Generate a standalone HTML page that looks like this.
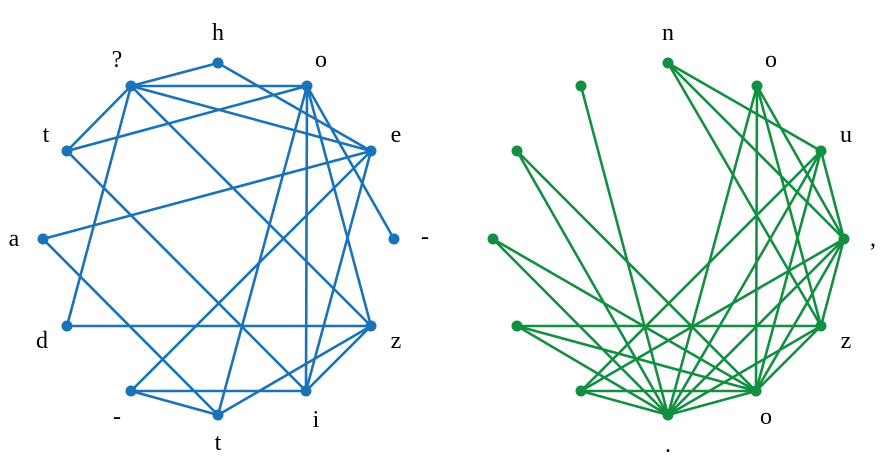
<!DOCTYPE html>
<html><head><meta charset="utf-8"><style>
html,body{margin:0;padding:0;background:#fff;}
svg{display:block;}
text{font-family:"Liberation Serif",serif;font-size:24px;fill:#000;text-anchor:middle;}
</style></head><body>
<svg width="891" height="466" viewBox="0 0 891 466" xmlns="http://www.w3.org/2000/svg">
<g stroke="#1a72b8" stroke-width="2.6" fill="none">
<line x1="131" y1="86" x2="218" y2="63"/>
<line x1="218" y1="63" x2="371" y2="151"/>
<line x1="131" y1="86" x2="307" y2="86"/>
<line x1="131" y1="86" x2="371" y2="151"/>
<line x1="131" y1="86" x2="67" y2="151"/>
<line x1="131" y1="86" x2="67" y2="326"/>
<line x1="131" y1="86" x2="371" y2="326"/>
<line x1="307" y1="86" x2="67" y2="151"/>
<line x1="307" y1="86" x2="394" y2="239"/>
<line x1="307" y1="86" x2="371" y2="326"/>
<line x1="307" y1="86" x2="306" y2="391"/>
<line x1="307" y1="86" x2="218" y2="415"/>
<line x1="371" y1="151" x2="43" y2="239"/>
<line x1="371" y1="151" x2="131" y2="391"/>
<line x1="371" y1="151" x2="306" y2="391"/>
<line x1="67" y1="151" x2="306" y2="391"/>
<line x1="43" y1="239" x2="218" y2="415"/>
<line x1="67" y1="326" x2="371" y2="326"/>
<line x1="371" y1="326" x2="306" y2="391"/>
<line x1="371" y1="326" x2="218" y2="415"/>
<line x1="131" y1="391" x2="306" y2="391"/>
<line x1="131" y1="391" x2="218" y2="415"/>
</g>
<g fill="#1a72b8">
<circle cx="218" cy="63" r="5.5"/><circle cx="307" cy="86" r="5.5"/><circle cx="131" cy="86" r="5.5"/>
<circle cx="67" cy="151" r="5.5"/><circle cx="371" cy="151" r="5.5"/><circle cx="43" cy="239" r="5.5"/>
<circle cx="394" cy="239" r="5.5"/><circle cx="67" cy="326" r="5.5"/><circle cx="371" cy="326" r="5.5"/>
<circle cx="131" cy="391" r="5.5"/><circle cx="306" cy="391" r="5.5"/><circle cx="218" cy="415" r="5.5"/>
</g>
<text x="218" y="40">h</text><text x="321" y="67">o</text><text x="117" y="67">?</text>
<text x="46" y="142">t</text><text x="396" y="142">e</text><text x="14" y="246">a</text>
<text x="425" y="244">-</text><text x="42" y="348">d</text><text x="396" y="348">z</text>
<text x="117" y="424">-</text><text x="316" y="427">i</text><text x="218" y="450">t</text>

<g stroke="#138f42" stroke-width="2.6" fill="none">
<line x1="668" y1="63" x2="821" y2="151"/>
<line x1="668" y1="63" x2="844" y2="239"/>
<line x1="668" y1="63" x2="821" y2="326"/>
<line x1="581" y1="86" x2="668" y2="415"/>
<line x1="517" y1="151" x2="668" y2="415"/>
<line x1="517" y1="151" x2="756" y2="391"/>
<line x1="493" y1="239" x2="668" y2="415"/>
<line x1="493" y1="239" x2="756" y2="391"/>
<line x1="517" y1="326" x2="821" y2="326"/>
<line x1="517" y1="326" x2="668" y2="415"/>
<line x1="517" y1="326" x2="756" y2="391"/>
<line x1="581" y1="391" x2="756" y2="391"/>
<line x1="581" y1="391" x2="668" y2="415"/>
<line x1="581" y1="391" x2="821" y2="151"/>
<line x1="581" y1="391" x2="844" y2="239"/>
<line x1="757" y1="86" x2="668" y2="415"/>
<line x1="757" y1="86" x2="756" y2="391"/>
<line x1="757" y1="86" x2="821" y2="326"/>
<line x1="757" y1="86" x2="844" y2="239"/>
<line x1="821" y1="151" x2="844" y2="239"/>
<line x1="821" y1="151" x2="668" y2="415"/>
<line x1="821" y1="151" x2="756" y2="391"/>
<line x1="844" y1="239" x2="821" y2="326"/>
<line x1="844" y1="239" x2="668" y2="415"/>
<line x1="844" y1="239" x2="756" y2="391"/>
<line x1="821" y1="326" x2="756" y2="391"/>
<line x1="821" y1="326" x2="668" y2="415"/>
<line x1="756" y1="391" x2="668" y2="415"/>
</g>
<g fill="#138f42">
<circle cx="668" cy="63" r="5.5"/><circle cx="757" cy="86" r="5.5"/><circle cx="581" cy="86" r="5.5"/>
<circle cx="517" cy="151" r="5.5"/><circle cx="821" cy="151" r="5.5"/><circle cx="493" cy="239" r="5.5"/>
<circle cx="844" cy="239" r="5.5"/><circle cx="517" cy="326" r="5.5"/><circle cx="821" cy="326" r="5.5"/>
<circle cx="581" cy="391" r="5.5"/><circle cx="756" cy="391" r="5.5"/><circle cx="668" cy="415" r="5.5"/>
</g>
<text x="668" y="40">n</text><text x="771" y="67">o</text><text x="846" y="142">u</text>
<text x="873" y="246">,</text><text x="846" y="348">z</text><text x="766" y="424">o</text>
<text x="668" y="452">.</text>
</svg>
</body></html>
